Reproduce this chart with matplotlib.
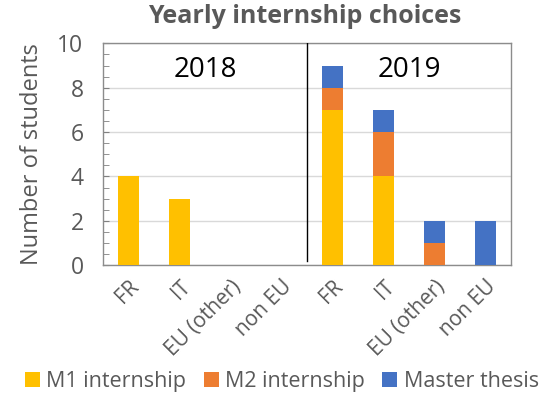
import matplotlib
matplotlib.use("Agg")
import matplotlib.pyplot as plt
import numpy as np

plt.rcParams["font.family"] = ["Open Sans", "DejaVu Sans"]

categories = ["FR", "IT", "EU (other)", "non EU", "FR", "IT", "EU (other)", "non EU"]
years = ["2018", "2019"]
m1 = [4, 3, 0, 0, 7, 4, 0, 0]
m2 = [0, 0, 0, 0, 1, 2, 1, 0]
thesis = [0, 0, 0, 0, 1, 1, 1, 2]

series = [("M1 internship", m1, "#FFC000"),
          ("M2 internship", m2, "#ED7D31"),
          ("Master thesis", thesis, "#4472C4")]

fig = plt.figure(figsize=(5.42, 4.05), dpi=100)
ax = fig.add_axes([0.19, 0.345, 0.753, 0.548])

x = np.arange(len(categories))
bottom = np.zeros(len(categories))
for name, vals, col in series:
    ax.bar(x, vals, 0.4, bottom=bottom, color=col, label=name, zorder=3)
    bottom += np.array(vals)

ax.set_xlim(-0.5, 7.5)
ax.set_ylim(0, 10)
ax.set_yticks(range(0, 11, 2))
ax.set_yticks(np.arange(0, 10.01, 0.5), minor=True)
ax.grid(axis="y", color="#D9D9D9", linewidth=1, zorder=0)
ax.tick_params(axis="y", which="both", direction="in", color="#808080", labelsize=16.5,
               labelcolor="#595959", length=4, pad=14)
ax.tick_params(axis="x", length=0, labelsize=15, labelcolor="#595959", pad=8)
ax.set_xticks(x)
ax.set_xticklabels(categories, rotation=45, ha="right", rotation_mode="anchor")
for s in ax.spines.values():
    s.set_color("#8C8C8C")
    s.set_linewidth(1)

ax.axvline(3.5, ymin=0.02, ymax=1, color="black", linewidth=1, zorder=4)
ax.text(1.5, 8.8, years[0], ha="center", va="center", fontsize=20, color="black")
ax.text(5.5, 8.8, years[1], ha="center", va="center", fontsize=20, color="black")

ax.set_ylabel("Number of students", fontsize=17, color="#595959", labelpad=10)
fig.suptitle("Yearly internship choices", fontsize=18, fontweight="bold", color="#595959",
             x=0.563, y=0.99)

fig.legend(loc="lower center", bbox_to_anchor=(0.52, -0.015), ncol=3, frameon=False,
           fontsize=15.5, labelcolor="#595959", handlelength=0.7, handleheight=0.7,
           handletextpad=0.3, columnspacing=0.8)

fig.savefig("out.png", dpi=100)
